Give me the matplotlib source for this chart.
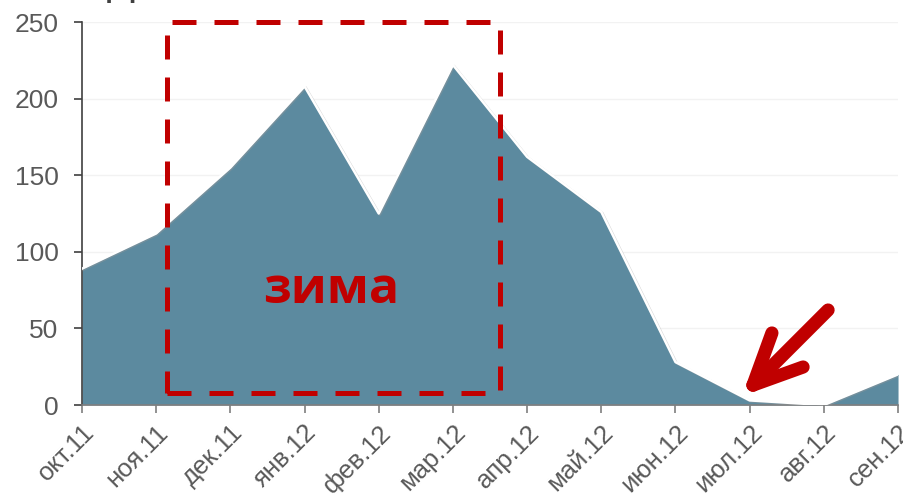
import matplotlib
matplotlib.use("Agg")
import matplotlib.pyplot as plt
from matplotlib.patches import Rectangle
from matplotlib.lines import Line2D
import matplotlib.patheffects as pe

months = ["окт.11", "ноя.11", "дек.11", "янв.12", "фев.12", "мар.12",
          "апр.12", "май.12", "июн.12", "июл.12", "авг.12", "сен.12"]
values = [89, 112, 155, 208, 125, 222, 162, 126, 28, 3, 0, 20]
y_ticks = [0, 50, 100, 150, 200, 250]

AREA = "#5c8a9f"
RED = "#c00000"
TXT = "#595959"

fig = plt.figure(figsize=(9.04, 4.97), dpi=100)
ax = fig.add_axes([0.0907, 0.1851, 0.9027, 0.7706])

x = list(range(len(values)))
ax.fill_between(x, values, 0, color=AREA, linewidth=0, zorder=2)
ax.plot(x, values, color="white", lw=1.8, zorder=3,
        path_effects=[pe.SimpleLineShadow(offset=(0.8, -0.8), shadow_color="#999999", alpha=0.4),
                      pe.Normal()])

ax.set_xlim(0, len(values) - 1)
ax.set_ylim(0, 250)
ax.set_yticks(y_ticks)
ax.set_xticks(x)
ax.set_xticklabels(months, rotation=45, ha="right", va="top",
                   rotation_mode="anchor", fontsize=18.5, color=TXT,
                   family="Liberation Sans")
ax.set_yticklabels([str(v) for v in y_ticks], fontsize=19, color=TXT,
                   family="Liberation Sans")
ax.yaxis.grid(True, color="#f2f2f2", lw=1, zorder=0)
ax.set_axisbelow(True)

for s in ["top", "right"]:
    ax.spines[s].set_visible(False)
ax.spines["left"].set_color("#404040")
ax.spines["bottom"].set_color("#7f7f7f")
ax.spines["left"].set_linewidth(1.2)
ax.spines["bottom"].set_linewidth(1.2)
ax.tick_params(axis="y", direction="out", length=6, width=1.2, color="#404040", pad=11)
ax.tick_params(axis="x", direction="out", length=6, width=1.2, color="#7f7f7f", pad=5)

# Winter period frame
box = Rectangle((1.146, 8), 5.63 - 1.146, 242, fill=False, edgecolor=RED,
                lw=3.6, linestyle=(0, (4.8, 3.6)), zorder=5, clip_on=False)
ax.add_patch(box)
ax.text(3.36, 75, "зима", color=RED, fontsize=36, fontweight="bold",
        family="Open Sans", ha="center", va="center", zorder=6)

# Arrow pointing at the summer minimum
tip = (9.045, 13.0)
for end in [(10.057, 62.0), (9.30, 47.0), (9.72, 24.8)]:
    ax.add_line(Line2D([end[0], tip[0]], [end[1], tip[1]], color=RED, lw=9.5,
                       solid_capstyle="round", solid_joinstyle="round",
                       zorder=7, clip_on=False))

# Title, mostly above the visible canvas
fig.text(0.118, 1.012, "Динамика", fontsize=30, color="#404040",
         family="Liberation Sans", ha="left", va="baseline")

fig.savefig("out.png", dpi=100)
